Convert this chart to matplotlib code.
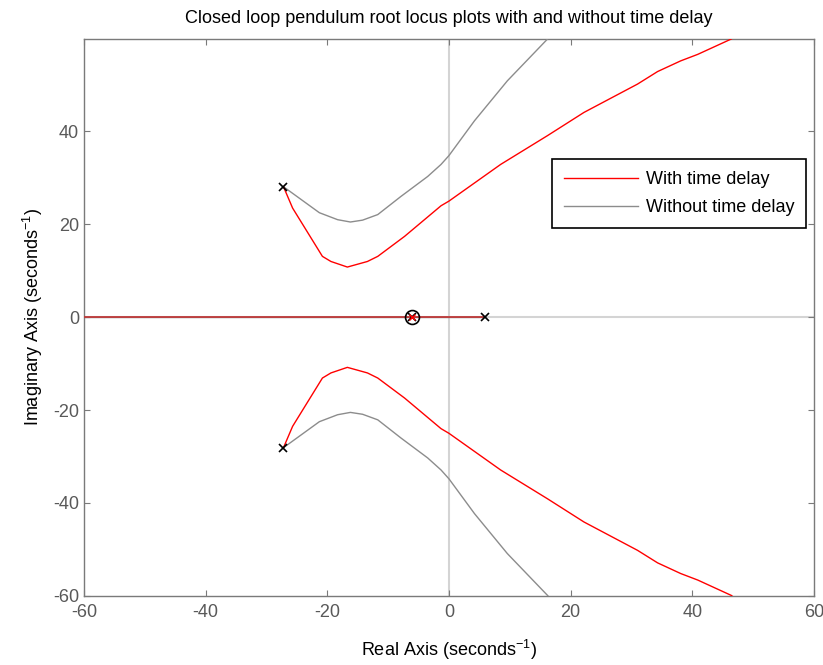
import numpy as np
import matplotlib
matplotlib.use('Agg')
import matplotlib.pyplot as plt

plt.rcParams['font.family'] = ['Liberation Sans', 'DejaVu Sans']
plt.rcParams['axes.unicode_minus'] = False
plt.rcParams['mathtext.fontset'] = 'custom'
plt.rcParams['mathtext.rm'] = 'Liberation Sans'
plt.rcParams['mathtext.default'] = 'regular'

# ========================================================
# 데이터
# ========================================================
# 시간 지연이 있는 경우 - 위쪽 복소 근궤적
delay_re = [-27.2, -25.7, -20.8, -19.4, -16.7, -13.4, -11.7, -7.3, -1.3, 0.0,
            8.5, 16.2, 22.2, 31.0, 34.3, 38.1, 40.9, 46.4, 47.0]
delay_im = [28.1, 23.5, 13.1, 12.0, 10.8, 12.0, 13.1, 17.4, 24.0, 25.0,
            32.9, 39.1, 44.1, 50.2, 52.9, 55.2, 56.6, 59.9, 60.5]

# 시간 지연이 없는 경우 - 위쪽 복소 근궤적
nodelay_re = [-27.2, -21.3, -18.3, -16.2, -14.2, -11.7, -7.9, -3.5, -1.3, 0.0,
              4.2, 9.6, 16.2, 16.6]
nodelay_im = [28.1, 22.5, 21.0, 20.5, 20.9, 22.1, 26.0, 30.3, 32.9, 34.8,
              42.3, 50.9, 59.9, 60.5]

# 실수축 위의 근궤적 구간
real_branch_re = [-60.0, 6.0]

# 극점 / 영점
pole_re = [-27.2, -27.2, 6.0, -6.0]
pole_im = [28.1, -28.1, 0.0, 0.0]
zero_re = [-6.0]
zero_im = [0.0]

xticks = [-60, -40, -20, 0, 20, 40, 60]
yticks = [-60, -40, -20, 0, 20, 40]

# ========================================================
# 시각화
# ========================================================
fig = plt.figure(figsize=(8.23, 6.65), dpi=100)
ax = fig.add_axes([0.102, 0.104, 0.887, 0.838])

ax.axhline(0, color='#d4d4d4', lw=1.5, zorder=1)
ax.axvline(0, color='#d4d4d4', lw=1.5, zorder=1)

red = '#ff0000'
gray = '#8c8c8c'

ax.plot(real_branch_re, [0, 0], color=gray, lw=1.0, zorder=2)
ax.plot(real_branch_re, [0, 0], color='#bf3a3a', lw=1.3, zorder=3)

d_re = np.array(delay_re)
d_im = np.array(delay_im)
n_re = np.array(nodelay_re)
n_im = np.array(nodelay_im)

ax.plot(d_re, d_im, color=red, lw=1.0, zorder=4, label='With time delay')
ax.plot(d_re, -d_im, color=red, lw=1.0, zorder=4)
ax.plot(n_re, n_im, color=gray, lw=1.0, zorder=3, label='Without time delay')
ax.plot(n_re, -n_im, color=gray, lw=1.0, zorder=3)

ax.plot(pole_re, pole_im, 'x', color='black', ms=5.5, mew=1.2, zorder=5)
ax.plot(zero_re, zero_im, 'o', mfc='none', mec='black', ms=10, mew=1.2, zorder=5)
ax.plot(zero_re, zero_im, 'x', color=red, ms=4, mew=1.0, zorder=6)

ax.set_xlim(-60, 60)
ax.set_ylim(-60, 60)
ax.set_xticks(xticks)
ax.set_yticks(yticks)

for s in ax.spines.values():
    s.set_color('#7a7a7a')
    s.set_linewidth(1.0)
ax.tick_params(direction='in', length=4, width=0.8, color='#7a7a7a',
               labelcolor='#595959', labelsize=13, top=True, right=True)
ax.tick_params(axis='x', pad=6)

ax.set_title('Closed loop pendulum root locus plots with and without time delay',
             fontsize=13, pad=11)
ax.set_xlabel('Real Axis (seconds$^{-1}$)', fontsize=13, labelpad=12)
ax.set_ylabel('Imaginary Axis (seconds$^{-1}$)', fontsize=13, labelpad=6)

leg = ax.legend(loc='upper left', bbox_to_anchor=(0.641, 0.783), fontsize=13,
                fancybox=False, framealpha=1, edgecolor='black',
                handlelength=4.1, borderpad=0.65, labelspacing=0.6,
                borderaxespad=0, handletextpad=0.45)
leg.get_frame().set_linewidth(1.2)

fig.savefig('out.png', dpi=100)
